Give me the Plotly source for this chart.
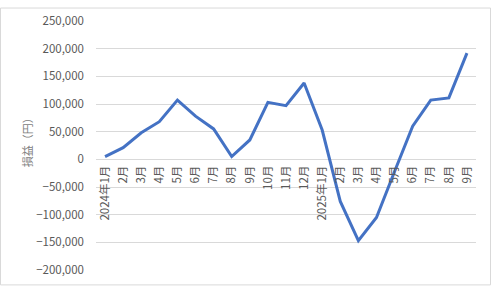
import plotly.graph_objects as go

categories = ["2024年1月", "2月", "3月", "4月", "5月", "6月", "7月", "8月", "9月", "10月", "11月", "12月",
              "2025年1月", "2月 ", "3月 ", "4月 ", "5月 ", "6月 ", "7月 ", "8月 ", "9月 "]
values = [5000, 21000, 48000, 68000, 107000, 78000, 55000, 5000, 35000, 103000, 97000, 138000,
          53000, -76000, -147000, -105000, -22000, 60000, 107000, 111000, 192000]
y_ticks = [-200000, -150000, -100000, -50000, 0, 50000, 100000, 150000, 200000, 250000]
y_title = "損益（円）"

W, H = 491, 289
L, R, T, B = 96, 15, 14, 16
pw, ph = W - L - R, H - T - B
ymin, ymax = -200000, 250000
font_family = "Noto Sans CJK JP, Noto Sans, sans-serif"
gray = "#595959"

fig = go.Figure()
fig.add_trace(go.Scatter(
    x=list(range(len(categories))), y=values, mode="lines",
    line=dict(color="#4472C4", width=3), hoverinfo="skip", showlegend=False,
))

fig.update_layout(
    width=W, height=H,
    margin=dict(l=L, r=R, t=T, b=B, pad=0),
    paper_bgcolor="white", plot_bgcolor="white",
    font=dict(family=font_family, color=gray, size=11),
    xaxis=dict(
        range=[-0.5, len(categories) - 0.5],
        tickmode="array", tickvals=list(range(len(categories))), ticktext=[c.strip() for c in categories],
        tickangle=-90, showgrid=False, zeroline=False, showline=False, ticks="",
        ticklabelstandoff=3,
        anchor="free", position=(0 - ymin) / (ymax - ymin),
        tickfont=dict(size=11.5, color=gray),
    ),
    yaxis=dict(
        range=[ymin, ymax], tickvals=y_ticks, tickformat=",d",
        showgrid=True, gridcolor="#d9d9d9", gridwidth=1,
        zeroline=False, showline=False, ticks="", ticklabelstandoff=11,
        tickfont=dict(size=11.5, color=gray),
    ),
)

fig.add_annotation(
    text=y_title, textangle=-90, xref="paper", yref="paper",
    x=(27 - L) / pw, y=(H - B - 138) / ph, showarrow=False,
    font=dict(size=11, color="#808080"), xanchor="center", yanchor="middle",
)

fig.add_shape(
    type="rect", xref="paper", yref="paper",
    x0=(0.5 - L) / pw, x1=(W - 0.5 - L) / pw,
    y0=(0.5 - B) / ph, y1=(H - 0.5 - B) / ph,
    line=dict(color="#d9d9d9", width=1), layer="below",
)

fig.write_html("out.html")
